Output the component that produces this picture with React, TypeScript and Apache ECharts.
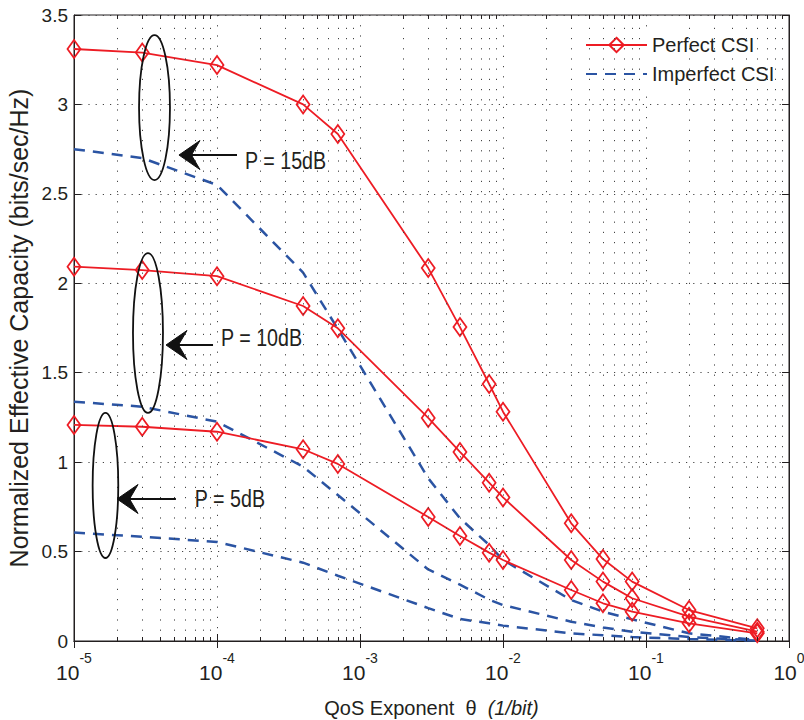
import React, { useEffect, useRef } from "react";
import * as echarts from "echarts";

// ---- data ----
const thetaValues = [1e-5, 3e-5, 1e-4, 4e-4, 7e-4, 3e-3, 5e-3, 8e-3, 1e-2, 3e-2, 5e-2, 8e-2, 0.2, 0.6];
const perfect15 = [3.31, 3.29, 3.22, 3.0, 2.835, 2.085, 1.755, 1.437, 1.282, 0.658, 0.458, 0.332, 0.173, 0.071];
const perfect10 = [2.093, 2.074, 2.04, 1.873, 1.748, 1.247, 1.057, 0.885, 0.803, 0.453, 0.332, 0.239, 0.136, 0.052];
const perfect5 = [1.208, 1.198, 1.17, 1.072, 0.99, 0.693, 0.587, 0.494, 0.453, 0.285, 0.211, 0.164, 0.099, 0.043];
const imperfect15 = [2.75, 2.7, 2.55, 2.06, 1.745, 0.91, 0.686, 0.537, 0.453, 0.229, 0.164, 0.121, 0.043, 0.005];
const imperfect10 = [1.338, 1.31, 1.226, 0.975, 0.816, 0.4, 0.315, 0.231, 0.201, 0.108, 0.075, 0.052, 0.022, 0.003];
const imperfect5 = [0.606, 0.583, 0.554, 0.438, 0.365, 0.184, 0.123, 0.099, 0.086, 0.043, 0.032, 0.022, 0.011, 0.002];

const legendNames = ["Perfect CSI", "Imperfect CSI"];
const xAxisTitle = "QoS Exponent  θ  ";
const xAxisUnit = "(1/bit)";
const yAxisTitle = "Normalized Effective Capacity (bits/sec/Hz)";
const xMin = 1e-5;
const xMax = 1;
const yMin = 0;
const yMax = 3.5;
const yInterval = 0.5;

// annotation anchors in data coordinates
const annotationLabels = ["P = 15dB", "P = 10dB", "P = 5dB"];
const ellipseBoxes = [
  // [xLeft, xRight, yBottom, yTop]
  [2.85e-5, 4.69e-5, 2.577, 3.388],
  [2.585e-5, 4.19e-5, 1.275, 2.169],
  [1.35e-5, 2.04e-5, 0.464, 1.275],
];
const arrowTails = [
  [1.38e-4, 2.717],
  [9.38e-5, 1.655],
  [5.16e-5, 0.794],
];
const arrowTips = [
  [5.42e-5, 2.717],
  [4.4e-5, 1.655],
  [2.0e-5, 0.794],
];
const labelAnchors = [
  [1.57e-4, 2.684],
  [1.066e-4, 1.694],
  [7.0e-5, 0.794],
];

const RED = "#ed1c24";
const BLUE = "#2b54a3";
const INK = "#231f20";
const SANS = "'Liberation Sans', Arial, Helvetica, sans-serif";

function pairs(ys: number[]) {
  return thetaValues.map((x, i) => [x, ys[i]]);
}

function minorXValues() {
  const out: number[] = [];
  for (let e = -5; e < 0; e++) {
    for (let m = 2; m <= 9; m++) out.push(m * Math.pow(10, e));
  }
  return out;
}

export default function App() {
  const ref = useRef<HTMLDivElement>(null);

  useEffect(() => {
    document.body.style.margin = "0";
    const chart = echarts.init(ref.current!, undefined, { renderer: "svg" });

    const redSeries = (ys: number[]) => ({
      type: "line",
      name: legendNames[0],
      data: pairs(ys),
      symbol: "diamond",
      symbolSize: [13, 18],
      showSymbol: true,
      lineStyle: { color: RED, width: 1.8 },
      itemStyle: { color: "rgba(255,255,255,0)", borderColor: RED, borderWidth: 1.8 },
      emphasis: { disabled: true },
      z: 4,
    });
    const blueSeries = (ys: number[]) => ({
      type: "line",
      name: legendNames[1],
      data: pairs(ys),
      symbol: "none",
      lineStyle: { color: BLUE, width: 2.5, type: [11, 8] },
      itemStyle: { color: BLUE },
      emphasis: { disabled: true },
      z: 3,
    });

    const minors = minorXValues();
    const tickLen = 4 / 178.86;
    const gridDots = { color: "#444", width: 1, type: [1.2, 9] };

    const helper = {
      type: "line",
      name: "grid-helper",
      data: [[xMin, yMin]],
      symbol: "none",
      lineStyle: { opacity: 0 },
      silent: true,
      z: 1,
      markLine: {
        silent: true,
        symbol: ["none", "none"],
        label: { show: false },
        emphasis: { disabled: true },
        animation: false,
        lineStyle: gridDots,
        data: [
          ...minors.map((x) => [{ coord: [x, yMin] }, { coord: [x, yMax] }]),
          ...minors.map((x) => [
            { coord: [x, yMin], lineStyle: { color: INK, width: 1, type: "solid" } },
            { coord: [x, yMin + tickLen] },
          ]),
          ...minors.map((x) => [
            { coord: [x, yMax], lineStyle: { color: INK, width: 1, type: "solid" } },
            { coord: [x, yMax - tickLen] },
          ]),
        ],
      },
    };

    const option: any = {
      animation: false,
      backgroundColor: "#fff",
      grid: {
        left: 74,
        right: 15,
        top: 15,
        bottom: 79,
        containLabel: false,
        outerBoundsMode: "none",
        show: true,
        borderColor: INK,
        borderWidth: 1,
        backgroundColor: "transparent",
      },
      legend: {
        data: [
          { name: legendNames[0] },
          { name: legendNames[1], itemStyle: { opacity: 0 } },
        ],
        orient: "vertical",
        left: 577,
        top: 29,
        itemWidth: 61,
        itemHeight: 18,
        itemGap: 9,
        backgroundColor: "#fff",
        padding: [6, 8, 6, 8],
        selectedMode: false,
        textStyle: { fontFamily: SANS, fontSize: 20, color: INK },
      },
      xAxis: [
        {
          type: "log",
          logBase: 10,
          min: xMin,
          max: xMax,
          splitNumber: 5,
          position: "bottom",
          axisLine: { show: true, lineStyle: { color: INK, width: 1 } },
          axisTick: { show: true, inside: true, length: 7, lineStyle: { color: INK } },
          splitLine: { show: true, lineStyle: gridDots },
          axisLabel: {
            margin: 10,
            formatter: (v: number) => `{b|10}{s|${Math.round(Math.log10(v))}}`,
            rich: {
              b: { fontSize: 21, fontFamily: SANS, color: INK, verticalAlign: "bottom", lineHeight: 32 },
              s: { fontSize: 14, fontFamily: SANS, color: INK, verticalAlign: "top" },
            },
          },
          name: `{n|${xAxisTitle}}{i|${xAxisUnit}}`,
          nameLocation: "middle",
          nameGap: 57,
          nameMoveOverlap: false,
          nameTextStyle: {
            rich: {
              n: { fontFamily: SANS, fontSize: 20, color: INK },
              i: { fontFamily: SANS, fontSize: 20, color: INK, fontStyle: "italic" },
            },
          },
        },
        {
          type: "log",
          logBase: 10,
          min: xMin,
          max: xMax,
          splitNumber: 5,
          position: "top",
          axisLine: { show: true, lineStyle: { color: INK, width: 1 } },
          axisTick: { show: true, inside: true, length: 7, lineStyle: { color: INK } },
          splitLine: { show: false },
          axisLabel: { show: false },
        },
      ],
      yAxis: [
        {
          type: "value",
          min: yMin,
          max: yMax,
          interval: yInterval,
          position: "left",
          axisLine: { show: true, lineStyle: { color: INK, width: 1 } },
          axisTick: { show: true, inside: true, length: 7, lineStyle: { color: INK } },
          splitLine: { show: true, lineStyle: { color: "#444", width: 1, type: [1.2, 6] } },
          axisLabel: { margin: 6, fontSize: 19, fontFamily: SANS, color: INK },
          name: yAxisTitle,
          nameLocation: "middle",
          nameGap: 43,
          nameMoveOverlap: false,
          nameRotate: 90,
          nameTextStyle: { fontFamily: SANS, fontSize: 25, color: INK },
        },
        {
          type: "value",
          min: yMin,
          max: yMax,
          interval: yInterval,
          position: "right",
          axisLine: { show: true, lineStyle: { color: INK, width: 1 } },
          axisTick: { show: true, inside: true, length: 7, lineStyle: { color: INK } },
          splitLine: { show: false },
          axisLabel: { show: false },
        },
      ],
      series: [
        helper,
        blueSeries(imperfect15),
        blueSeries(imperfect10),
        blueSeries(imperfect5),
        redSeries(perfect15),
        redSeries(perfect10),
        redSeries(perfect5),
      ],
    };

    chart.setOption(option);

    const px = (p: number[]) => chart.convertToPixel({ seriesIndex: 1 }, p) as number[];
    const graphics: any[] = [];
    annotationLabels.forEach((label, i) => {
      const [xl, xr, yb, yt] = ellipseBoxes[i];
      const pl = px([xl, yb]);
      const pr = px([xr, yt]);
      graphics.push({
        type: "ellipse",
        silent: true,
        z: 10,
        shape: {
          cx: (pl[0] + pr[0]) / 2,
          cy: (pl[1] + pr[1]) / 2,
          rx: Math.abs(pr[0] - pl[0]) / 2,
          ry: Math.abs(pl[1] - pr[1]) / 2,
        },
        style: { fill: "none", stroke: "#111", lineWidth: 1.8 },
      });
      const tail = px(arrowTails[i]);
      const tip = px(arrowTips[i]);
      graphics.push({
        type: "line",
        silent: true,
        z: 10,
        shape: { x1: tail[0], y1: tail[1], x2: tip[0] + 12, y2: tip[1] },
        style: { stroke: "#111", lineWidth: 2 },
      });
      graphics.push({
        type: "polygon",
        silent: true,
        z: 10,
        shape: {
          points: [
            [tip[0], tip[1]],
            [tip[0] + 21, tip[1] - 14.5],
            [tip[0] + 12.5, tip[1]],
            [tip[0] + 21, tip[1] + 14.5],
          ],
        },
        style: { fill: "#111", stroke: "#111", lineWidth: 1 },
      });
      const lp = px(labelAnchors[i]);
      graphics.push({
        type: "text",
        silent: true,
        z: 10,
        x: lp[0],
        y: lp[1],
        scaleX: 0.82,
        style: {
          text: label,
          fontFamily: SANS,
          fontSize: 24,
          fill: INK,
          verticalAlign: "middle",
          align: "left",
        },
      });
    });
    chart.setOption({ graphic: graphics });

    return () => chart.dispose();
  }, []);

  return (
    <div
      ref={ref}
      style={{ position: "absolute", left: 0, top: 0, width: 804, height: 720, background: "#fff" }}
    />
  );
}
